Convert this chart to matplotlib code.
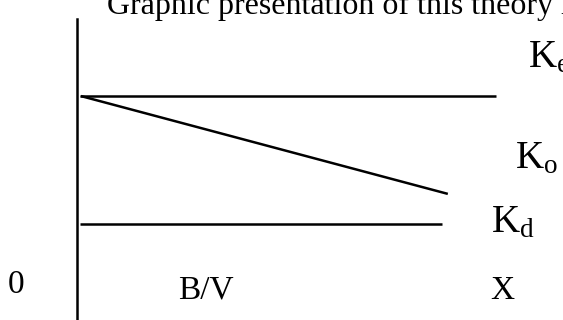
import matplotlib
matplotlib.use("Agg")
import matplotlib.pyplot as plt

plt.rcParams["font.family"] = ["Liberation Serif", "DejaVu Serif"]
plt.rcParams["mathtext.fontset"] = "custom"
plt.rcParams["mathtext.rm"] = "Liberation Serif"
plt.rcParams["mathtext.it"] = "Liberation Serif"

# Schematic levels on a 0-100 scale (x: B/V ratio, y: coefficient)
ke_x = [0.6, 86.2]
ke_y = [74.4, 74.4]
ko_x = [0.8, 76.3]
ko_y = [74.4, 41.9]
kd_x = [0.6, 75.1]
kd_y = [31.9, 31.9]

title = "Graphic presentation of this theory is"
line_labels = [r"$\mathrm{K}_{\mathrm{e}}$", r"$\mathrm{K}_{\mathrm{o}}$", r"$\mathrm{K}_{\mathrm{d}}$"]
axis_labels = ["0", "B/V", "X"]

fig = plt.figure(figsize=(5.63, 3.2), dpi=100)
ax = fig.add_axes([77 / 563, 0, 486 / 563, 301 / 320])
ax.set_xlim(0, 100)
ax.set_ylim(0, 100)

for xs, ys in [(ke_x, ke_y), (ko_x, ko_y), (kd_x, kd_y)]:
    ax.plot(xs, ys, color="black", lw=1.8, solid_capstyle="butt")

for s in ["top", "right", "bottom"]:
    ax.spines[s].set_visible(False)
ax.spines["left"].set_linewidth(1.8)
ax.set_xticks([])
ax.set_yticks([])

# curve labels at the right-hand end
for lab, (x, y) in zip(line_labels, [(92.8, 84.1), (90.1, 50.5), (85.2, 29.2)]):
    ax.text(x, y, lab, fontsize=28, ha="left", va="baseline", clip_on=False)

# labels along the bottom
for lab, (x, y) in zip(axis_labels, [(-14.2, 9.0), (20.8, 7.0), (85.0, 7.0)]):
    ax.text(x, y, lab, fontsize=24, ha="left", va="baseline", clip_on=False)

ax.text(6.2, 101.5, title, fontsize=23, ha="left", va="baseline", clip_on=False)

fig.savefig("out.png", dpi=100)
